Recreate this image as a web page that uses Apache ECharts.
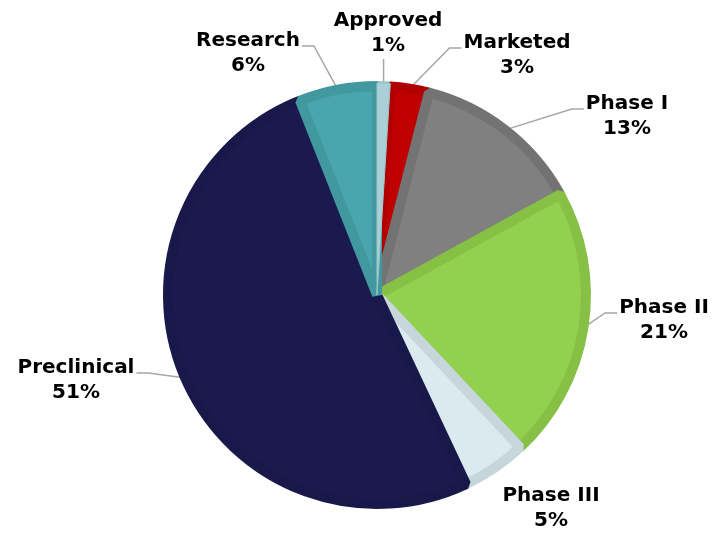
<!DOCTYPE html>
<html lang="en">
<head>
    <meta charset="UTF-8">
    <script src="https://cdn.jsdelivr.net/npm/echarts@6/dist/echarts.min.js"></script>
    <style>
        html, body { margin: 0; padding: 0; background: #fff; }
        #chart { width: 714px; height: 535px; }
    </style>
</head>
<body>
    <div id="chart"></div>
    <script>
        var stages = ['Approved', 'Marketed', 'Phase I', 'Phase II', 'Phase III', 'Preclinical', 'Research'];
        var shares = [1, 3, 13, 21, 5, 51, 6];
        var fills = ['#a9d0d7', '#c00000', '#808080', '#92d050', '#daeaef', '#1b1a4e', '#4aa6ae'];
        var edges = ['#9cc4cb', '#b10000', '#737373', '#86c146', '#c6d6db', '#19184a', '#42989f'];
        // label centres
        var labelSpots = [[388, 33], [517, 55], [627, 116], [664, 320], [551, 508], [76, 380], [248, 53]];
        var noLine = { 'Phase III': true };

        var chart = echarts.init(document.getElementById('chart'));
        var R = 209;

        var data = stages.map(function (s, i) {
            return {
                name: s,
                value: shares[i],
                itemStyle: { color: fills[i], borderColor: edges[i] },
                labelLine: { show: !noLine[s] }
            };
        });

        // thin slices get swallowed by their neighbours' borders, so redraw them on top
        var overlay = stages.map(function (s, i) {
            var thin = shares[i] < 2;
            return {
                name: s,
                value: shares[i],
                itemStyle: thin
                    ? { color: fills[i], borderColor: edges[i], borderWidth: 1 }
                    : { color: 'rgba(0,0,0,0)', borderWidth: 0 }
            };
        });

        function placeLabel(p) {
            var s = labelSpots[p.dataIndex];
            var w = p.labelRect.width, h = p.labelRect.height;
            var out = { x: s[0], y: s[1], align: 'center', verticalAlign: 'middle' };
            var pts = p.labelLinePoints;
            if (!pts) return out;
            var a = pts[0];
            if (Math.abs(a[0] - s[0]) < w / 2) {
                var yb = s[1] + h / 2 + 1;
                out.labelLinePoints = [a, [a[0], yb], [a[0], yb]];
            } else {
                var right = a[0] > s[0];
                var ex = right ? s[0] + w / 2 + 2 : s[0] - w / 2 - 2;
                var ey = s[1] - 7;
                var mx = right ? ex + 12 : ex - 12;
                out.labelLinePoints = [a, [mx, ey], [ex, ey]];
            }
            return out;
        }

        chart.setOption({
            animation: false,
            series: [{
                type: 'pie',
                center: [377, 295],
                radius: [0, R],
                startAngle: 90,
                clockwise: true,
                data: data,
                itemStyle: { borderWidth: 10, borderJoin: 'bevel' },
                label: {
                    show: true,
                    position: 'outside',
                    formatter: '{b}\n{c}%',
                    color: '#000',
                    fontFamily: 'DejaVu Sans',
                    fontWeight: 'bold',
                    fontSize: 20,
                    lineHeight: 25,
                    align: 'center'
                },
                labelLine: {
                    show: true,
                    length: 12,
                    length2: 10,
                    smooth: false,
                    lineStyle: { color: '#a6a6a6', width: 1.5 }
                },
                labelLayout: placeLabel
            }, {
                type: 'pie',
                center: [377, 295],
                radius: [0, R + 3],
                startAngle: 90,
                clockwise: true,
                silent: true,
                z: 3,
                data: overlay,
                label: { show: false },
                labelLine: { show: false }
            }]
        });
    </script>
</body>
</html>
